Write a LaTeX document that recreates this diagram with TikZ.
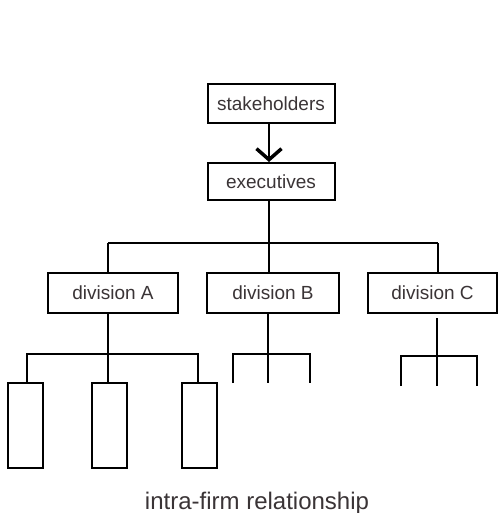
\documentclass[tikz,border=0pt]{standalone}
\usepackage{fontspec}
\setmainfont{Liberation Sans}
\usetikzlibrary{arrows.meta}
\definecolor{txtgray}{RGB}{58,52,54}
\tikzset{
  box/.style={draw,line width=2pt,inner sep=0pt,text=txtgray,font=\fontsize{19}{22}\selectfont},
  leaf/.style={draw,line width=2pt,minimum width=35pt,minimum height=85pt,inner sep=0pt},
  wire/.style={line width=2pt}
}
\begin{document}
\begin{tikzpicture}[x=1pt,y=-1pt]
\useasboundingbox (0,0) rectangle (498,513);
\node[box,minimum width=127pt,minimum height=39pt] (stake) at (271,103.5) {stakeholders};
\node[box,minimum width=127pt,minimum height=37pt] (exec) at (271,181.5) {executives};
\node[box,minimum width=130pt,minimum height=40pt] (divA) at (113,293) {division A};
\node[box,minimum width=132pt,minimum height=40pt] (divB) at (273,293) {division B};
\node[box,minimum width=129pt,minimum height=40pt] (divC) at (432.5,293) {division C};
\node[leaf] (leafA) at (25.5,425.5) {};
\node[leaf] (leafB) at (109.5,425.5) {};
\node[leaf] (leafC) at (199.5,425.5) {};
\node[anchor=base,text=txtgray,font=\fontsize{24}{28}\selectfont] (caption) at (257,509) {intra-firm relationship};
\coordinate (top) at (269,243);
\coordinate (busA) at (108,243);
\coordinate (busC) at (438,243);
\coordinate (subA) at (108,354);
\coordinate (subB) at (268,354);
\coordinate (subC) at (437,356);
\draw[wire,-{Straight Barb[length=11pt,width=25pt,line width=3.5pt]}] (stake.south -| top) -- (exec.north -| top);
\draw[wire] (exec.south -| top) -- (top);
\draw[wire] (busA) -- (busC);
\draw[wire] (busA) -- (busA |- divA.north);
\draw[wire] (top) -- (top |- divB.north);
\draw[wire] (busC) -- (busC |- divC.north);
\draw[wire] (divA.south -| subA) -- (subA);
\draw[wire] (leafA.north -| 27,0) |- (198,354) -- (leafC.north -| 198,0);
\draw[wire] (subA) -- (leafB.north -| subA);
\draw[wire] (divB.south -| subB) -- (subB);
\draw[wire] (233,383) |- (310,354) -- (310,383);
\draw[wire] (subB) -- (268,383);
\draw[wire,shorten <=4pt] (divC.south -| subC) -- (subC);
\draw[wire] (401,386) |- (477,356) -- (477,386);
\draw[wire] (subC) -- (437,386);
\end{tikzpicture}
\end{document}
